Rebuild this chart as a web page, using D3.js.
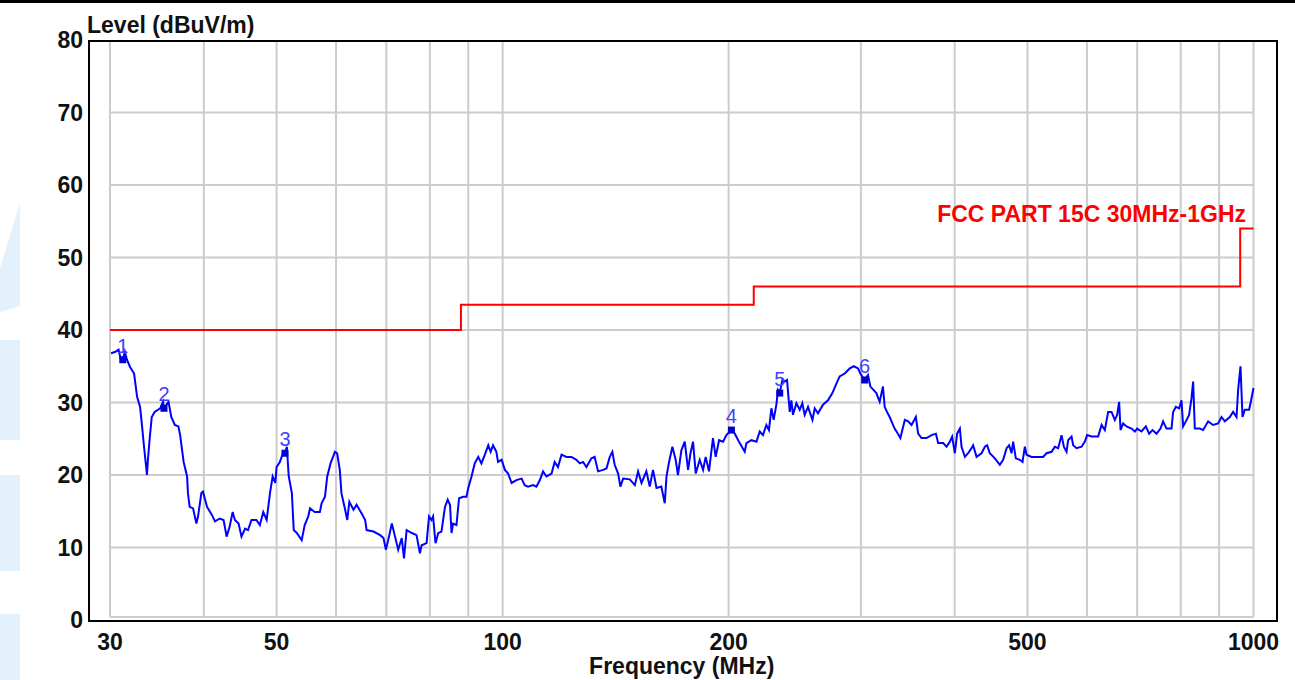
<!DOCTYPE html>
<html>
<head>
<meta charset="utf-8">
<script src="https://cdn.jsdelivr.net/npm/d3@7"></script>
<style>
body { margin: 0; background: #fff; }
svg text { font-family: "Liberation Sans", Arial, sans-serif; }
</style>
</head>
<body>
<svg id="chart"></svg>
<script>
var WIDTH = 1295;
var HEIGHT = 680;

// measured trace (MHz / dBuV/m)
var traceFreq = [30.1,30.5,30.8,31.0,31.2,31.4,31.6,31.9,32.3,32.6,32.9,33.1,33.3,33.6,33.7,33.9,34.1,34.4,35.0,35.3,35.4,35.9,36.2,36.6,37.0,37.2,37.6,38.0,38.1,38.3,38.7,39.1,39.3,39.7,39.9,40.4,41.0,41.4,42.0,42.5,42.9,43.3,43.7,44.0,44.5,44.9,45.4,45.8,46.3,47.0,47.5,48.0,48.5,49.0,49.4,49.8,50.0,50.5,51.0,51.3,51.6,51.9,52.4,52.7,53.2,54.0,54.5,55.1,55.4,56.2,57.1,57.4,58.0,58.4,59.0,59.8,60.2,60.7,61.0,61.7,62.1,62.5,63.3,63.9,64.9,65.6,65.9,67.3,68.7,69.4,69.9,70.4,71.2,71.9,72.6,73.4,73.9,74.5,75.7,76.8,77.6,78.0,79.2,79.8,80.4,80.8,81.4,82.1,82.9,83.8,84.5,85.1,85.5,85.9,86.8,87.5,88.6,89.5,90.0,90.9,91.8,92.8,93.7,94.7,95.7,96.4,97.1,98.1,98.6,99.7,100.7,101.7,102.8,104.3,106.0,107.0,108.1,109.8,110.9,112.1,113.2,114.4,116.2,117.3,118.5,119.8,121.6,123.5,125.4,126.7,128.0,129.3,131.3,132.6,134.0,136.1,137.5,138.9,140.0,141.0,142.5,143.5,144.7,147.7,150.0,151.5,153.1,155.4,157.0,158.6,160.3,162.7,164.4,165.3,166.6,168.3,170.0,171.2,173.0,174.8,176.6,177.9,179.3,180.8,183.0,184.9,186.4,188.3,190.6,192.2,194.2,196.6,198.6,201.7,203.8,206.9,210.1,211.2,214.5,217.8,220.0,222.2,224.5,226.3,228.0,229.6,231.5,232.7,233.9,235.8,237.5,239.2,241.2,242.4,243.6,246.2,248.7,250.7,252.5,255.1,258.6,260.4,263.0,267.1,271.2,274.9,278.3,281.1,285.5,289.9,293.5,297.4,299.5,303.5,306.6,308.9,312.0,314.6,317.8,321.0,322.7,325.0,327.7,332.7,336.1,338.6,343.3,346.8,350.4,355.1,357.6,361.3,366.9,372.6,377.6,380.2,386.1,390.1,394.1,396.9,400.2,403.0,406.4,408.5,412.7,416.8,421.2,423.3,427.7,434.3,438.8,441.8,445.5,452.4,459.4,464.1,469.0,472.7,476.2,478.5,482.5,488.5,492.5,496.0,498.6,506.3,514.1,524.6,530.1,538.4,543.8,549.4,555.1,559.0,563.7,566.4,572.4,575.2,581.2,590.2,596.2,600.4,608.6,621.0,627.6,633.9,640.4,647.1,653.6,658.3,662.3,665.2,670.5,677.5,687.9,695.0,699.9,709.4,718.8,726.1,733.7,742.8,751.9,757.9,765.8,777.7,781.6,788.1,796.1,801.9,805.9,812.6,820.8,826.9,831.0,835.3,848.2,856.8,870.1,883.5,897.2,906.6,915.8,929.9,939.4,949.3,953.9,960.9,966.9,973.7,986.6,990.9,1000];
var traceLevel = [36.8,37.0,37.3,36.0,35.9,37.0,35.9,34.9,34.0,30.8,29.4,26.7,23.9,20.0,22.1,25.3,28.0,28.7,29.2,30.1,29.2,30.1,28.0,26.9,26.7,25.5,21.8,19.8,17.5,15.6,15.4,13.3,14.3,17.5,17.7,15.6,14.5,13.6,14.0,13.8,11.5,12.9,14.9,13.8,13.3,11.5,12.6,12.4,13.8,13.8,13.1,14.9,13.8,17.5,19.8,18.9,21.1,21.8,23.0,23.0,23.9,19.8,17.5,12.4,12.0,11.0,13.1,14.3,15.4,14.9,14.9,16.1,17.0,19.8,21.6,23.2,23.0,20.7,17.5,15.2,13.8,16.3,15.2,15.9,14.7,13.8,12.4,12.2,11.7,11.3,9.7,11.0,13.3,11.5,9.7,11.3,8.5,12.4,12.0,11.7,9.2,10.3,10.6,14.3,13.8,14.3,10.6,12.0,12.2,15.6,16.6,15.9,12.0,13.3,13.1,16.8,17.0,17.0,18.2,19.8,21.6,22.5,21.6,22.8,24.1,23.2,24.1,23.2,21.8,22.1,20.7,20.2,18.9,19.3,19.5,18.6,18.4,18.6,18.4,19.3,20.5,19.8,20.2,21.8,21.1,22.8,22.5,22.5,22.1,21.6,21.8,21.1,22.3,22.5,20.5,20.7,20.9,22.5,23.2,21.4,20.2,18.4,19.5,19.4,18.6,20.5,18.9,20.5,18.4,20.7,18.2,18.4,16.1,19.8,21.8,23.9,22.1,20.0,23.4,24.6,20.7,23.0,24.6,20.2,22.1,20.7,22.5,20.5,25.1,22.5,24.8,24.6,25.5,26.2,25.7,24.4,23.2,24.4,24.8,24.6,26.0,25.5,26.9,26.2,29.2,27.6,29.7,31.7,31.3,33.1,32.9,33.1,28.7,30.3,28.3,29.9,29.0,29.9,28.3,29.4,27.6,29.2,28.5,29.7,30.3,31.3,32.6,33.6,34.0,34.7,35.0,34.7,34.0,33.1,33.8,32.2,31.7,31.3,30.1,32.2,29.4,28.7,28.0,26.4,25.7,25.1,27.6,27.4,26.9,28.0,25.7,25.1,25.1,25.5,25.7,24.4,24.4,23.9,24.6,25.3,23.0,25.7,26.4,23.9,22.5,23.0,23.7,24.1,22.5,23.0,23.9,24.1,23.0,22.3,21.4,22.1,23.7,24.1,23.0,24.6,22.3,22.1,21.8,23.9,22.8,22.5,22.5,22.5,23.0,23.2,23.9,23.7,25.5,23.9,23.2,24.8,25.3,24.1,23.7,23.9,24.6,25.5,25.3,25.3,26.9,26.2,28.7,28.7,27.6,28.3,30.1,26.2,27.1,26.7,26.4,26.0,26.4,26.0,26.7,25.7,26.2,25.7,26.4,27.4,26.4,26.4,28.7,29.4,29.2,30.3,26.7,27.4,28.3,30.6,32.9,26.4,26.4,26.2,27.4,26.9,27.1,28.0,27.4,28.0,28.7,28.0,31.7,35.0,28.0,29.0,29.0,29.9,32.0];

// limit line FCC Part 15C
var limitFreq = [30, 88, 88, 216, 216, 960, 960, 1000];
var limitLevel = [40, 40, 43.5, 43.5, 46, 46, 54, 54];
var limitName = "FCC PART 15C 30MHz-1GHz";

// peak markers
var markerId = ["1", "2", "3", "4", "5", "6"];
var markerFreq = [31.2, 35.4, 51.3, 201.7, 233.9, 303.5];
var markerLevel = [35.9, 29.2, 23.0, 26.2, 31.3, 33.1];

var yTicks = [0, 10, 20, 30, 40, 50, 60, 70, 80];
var xGrid = [30, 40, 50, 60, 70, 80, 90, 100, 200, 300, 400, 500, 600, 700, 800, 900, 1000];
var xTickLabels = [30, 50, 100, 200, 500, 1000];

function main() {
    var svg = d3.select("#chart")
        .attr("width", WIDTH)
        .attr("height", HEIGHT);

    svg.append("rect").attr("width", WIDTH).attr("height", HEIGHT).attr("fill", "#fff");

    // pale watermark at the left edge + top border
    var wm = svg.append("g").attr("fill", "#e2f1fc");
    wm.append("polygon").attr("points", "0,268 20,203 20,306 0,312");
    wm.append("rect").attr("x", 0).attr("y", 340).attr("width", 20).attr("height", 100);
    wm.append("rect").attr("x", 0).attr("y", 475).attr("width", 20).attr("height", 96);
    wm.append("rect").attr("x", 0).attr("y", 614).attr("width", 20).attr("height", 66);
    svg.append("rect").attr("x", 0).attr("y", 0).attr("width", WIDTH).attr("height", 3).attr("fill", "#000");

    var x = d3.scaleLog().domain([30, 1000]).range([110, 1253.5]);
    var y = d3.scaleLinear().domain([0, 80]).range([620, 40]);

    var gridBottom = y(0) - 3;

    // grid
    var grid = svg.append("g").attr("stroke", "#cccccc").attr("stroke-width", 2);
    grid.selectAll("line.v")
        .data(xGrid)
        .enter()
        .append("line")
        .attr("class", "v")
        .attr("x1", function(d) { return x(d); })
        .attr("x2", function(d) { return x(d); })
        .attr("y1", y(80))
        .attr("y2", gridBottom);
    grid.selectAll("line.h")
        .data(yTicks.slice(1, -1))
        .enter()
        .append("line")
        .attr("class", "h")
        .attr("x1", x(30))
        .attr("x2", x(1000))
        .attr("y1", function(d) { return y(d); })
        .attr("y2", function(d) { return y(d); });
    grid.append("line")
        .attr("x1", x(30)).attr("x2", x(1000))
        .attr("y1", gridBottom).attr("y2", gridBottom);

    // frame
    svg.append("rect")
        .attr("x", 89).attr("y", 41)
        .attr("width", 1188).attr("height", 580)
        .attr("fill", "none")
        .attr("stroke", "#000")
        .attr("stroke-width", 2);

    // y tick labels
    svg.selectAll("text.ytick")
        .data(yTicks)
        .enter()
        .append("text")
        .attr("class", "ytick")
        .attr("x", 83)
        .attr("y", function(d) { return y(d) + 8; })
        .attr("text-anchor", "end")
        .attr("font-size", 23)
        .attr("font-weight", "bold")
        .attr("fill", "#111")
        .text(function(d) { return d; });

    // x tick labels
    svg.selectAll("text.xtick")
        .data(xTickLabels)
        .enter()
        .append("text")
        .attr("class", "xtick")
        .attr("x", function(d) { return x(d); })
        .attr("y", 649.5)
        .attr("text-anchor", "middle")
        .attr("font-size", 23)
        .attr("font-weight", "bold")
        .attr("fill", "#111")
        .text(function(d) { return d; });

    svg.append("text")
        .attr("x", 87)
        .attr("y", 32.5)
        .attr("font-size", 23)
        .attr("font-weight", "bold")
        .attr("fill", "#111")
        .text("Level (dBuV/m)");

    svg.append("text")
        .attr("x", (x(30) + x(1000)) / 2)
        .attr("y", 674)
        .attr("text-anchor", "middle")
        .attr("font-size", 23)
        .attr("font-weight", "bold")
        .attr("fill", "#111")
        .text("Frequency (MHz)");

    // limit line
    var limitLine = d3.line()
        .x(function(d, i) { return x(limitFreq[i]); })
        .y(function(d, i) { return y(limitLevel[i]); });
    svg.append("path")
        .attr("d", limitLine(limitFreq))
        .attr("fill", "none")
        .attr("stroke", "#ff0000")
        .attr("stroke-width", 2);

    svg.append("text")
        .attr("x", 1246)
        .attr("y", 222)
        .attr("text-anchor", "end")
        .attr("font-size", 23)
        .attr("font-weight", "bold")
        .attr("fill", "#ff0000")
        .text(limitName);

    // trace
    var traceLine = d3.line()
        .x(function(d, i) { return x(traceFreq[i]); })
        .y(function(d, i) { return y(traceLevel[i]); });
    svg.append("path")
        .attr("d", traceLine(traceFreq))
        .attr("fill", "none")
        .attr("stroke", "#0000ff")
        .attr("stroke-width", 2)
        .attr("stroke-linejoin", "miter");

    // markers
    svg.selectAll("rect.marker")
        .data(markerId)
        .enter()
        .append("rect")
        .attr("class", "marker")
        .attr("x", function(d, i) { return x(markerFreq[i]) - 3.5; })
        .attr("y", function(d, i) { return y(markerLevel[i]) - 3.5; })
        .attr("width", 7)
        .attr("height", 7)
        .attr("fill", "#0000d0");

    svg.selectAll("text.marker")
        .data(markerId)
        .enter()
        .append("text")
        .attr("class", "marker")
        .attr("x", function(d, i) { return x(markerFreq[i]); })
        .attr("y", function(d, i) { return y(markerLevel[i]) - 7; })
        .attr("text-anchor", "middle")
        .attr("font-size", 20)
        .attr("fill", "#4040ff")
        .text(function(d) { return d; });
}

main();
</script>
</body>
</html>
